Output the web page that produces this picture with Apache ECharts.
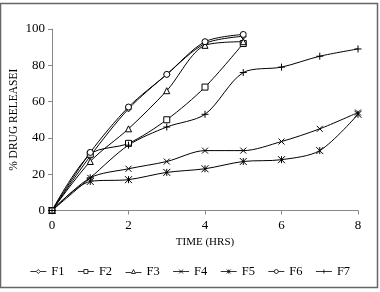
<!DOCTYPE html>
<html><head><meta charset="utf-8">
<script src="https://cdn.jsdelivr.net/npm/echarts@6/dist/echarts.min.js"></script>
<style>html,body{margin:0;padding:0;background:#fff}#c{width:380px;height:292px}</style>
</head><body><div id="c"></div>
<script>
const hours = [0, 1, 2, 3, 4, 5, 6, 7, 8];
const F1 = [0, 30, 56, 75, 92, 96];
const F2 = [0, 31, 37, 50, 68, 92];
const F3 = [0, 27, 45, 66, 91, 93];
const F4 = [0, 18, 23, 27, 33, 33, 38, 45, 54];
const F5 = [0, 16, 17, 21, 23, 27, 28, 33, 53];
const F6 = [0, 32, 57, 75, 93, 97];
const F7 = [0, 18, 36, 46, 53, 76, 79, 85, 89];
const names = ['F1','F2','F3','F4','F5','F6','F7'];
const seriesVals = [F1, F2, F3, F4, F5, F6, F7];
const symbols = [
  'diamond', 'rect', 'triangle',
  'path://M0,0L10,10M10,0L0,10',
  'path://M0,0L10,10M10,0L0,10M5,0L5,10',
  'circle',
  'path://M5,0L5,10M0,5L10,5'
];
const legendIcons = [
  'path://M0,2L6,2M10,2L16,2M8,0L10,2L8,4L6,2Z',
  'path://M0,2L6,2M10,2L16,2M6,0L10,0L10,4L6,4Z',
  'path://M0,3L6,3M10,3L16,3M8,0L10,4L6,4Z',
  'path://M0,2L16,2M6,0L10,4M10,0L6,4',
  'path://M0,2L16,2M6,0L10,4M10,0L6,4M8,0L8,4',
  'path://M0,2L6,2M10,2L16,2M6,2A2,2 0 1 1 10,2A2,2 0 1 1 6,2Z',
  'path://M0,2L16,2M8,0L8,4'
];
const sizes = [6, 6, 6, 6, 7, 6, 7];
const serif = 'Liberation Serif, Times New Roman, serif';
const chart = echarts.init(document.getElementById('c'));
chart.setOption({
  animation: false,
  backgroundColor: '#fff',
  graphic: [{type:'rect', shape:{x:0.5, y:3.5, width:377, height:284}, style:{fill:'none', stroke:'#666', lineWidth:1.5}, silent:true}],
  grid: {left: 52, right: 22, top: 29, bottom: 81.5, containLabel:false, outerBoundsMode:'none'},
  xAxis: {type:'value', min:0, max:8, interval:2,
    name:'TIME (HRS)', nameLocation:'middle', nameGap:26, nameMoveOverlap:false,
    nameTextStyle:{fontFamily:serif, fontSize:11, color:'#000'},
    axisLine:{lineStyle:{color:'#888'}}, axisTick:{show:true, length:4, lineStyle:{color:'#888'}},
    axisLabel:{fontFamily:serif, fontSize:13, color:'#000', margin:9}, splitLine:{show:false}},
  yAxis: {type:'value', min:0, max:100, interval:20,
    name:'% DRUG RELEASEI', nameLocation:'middle', nameGap:32, nameMoveOverlap:false,
    nameTextStyle:{fontFamily:serif, fontSize:11.5, color:'#000'},
    axisLine:{show:true, lineStyle:{color:'#888'}}, axisTick:{show:true, length:4, lineStyle:{color:'#888'}},
    axisLabel:{fontFamily:serif, fontSize:13, color:'#000', margin:7}, splitLine:{show:false}},
  legend: {bottom: 9, left:'center', itemWidth:16, itemHeight:4, itemGap:13,
    textStyle:{fontFamily:serif, fontSize:12.5, color:'#000'},
    data: names.map((n, i) => ({name:n, icon: legendIcons[i],
      itemStyle:{color:'#fff', borderColor:'#000', borderWidth:0.8}}))},
  series: names.map((n, i) => ({
    name: n, type:'line', smooth:0.3,
    data: seriesVals[i].map((v, j) => [hours[j], v]),
    symbol: symbols[i], symbolSize: sizes[i], showSymbol:true,
    lineStyle:{color:'#000', width:1},
    itemStyle:{color:'#fff', borderColor:'#000', borderWidth:1}
  }))
});
</script></body></html>
